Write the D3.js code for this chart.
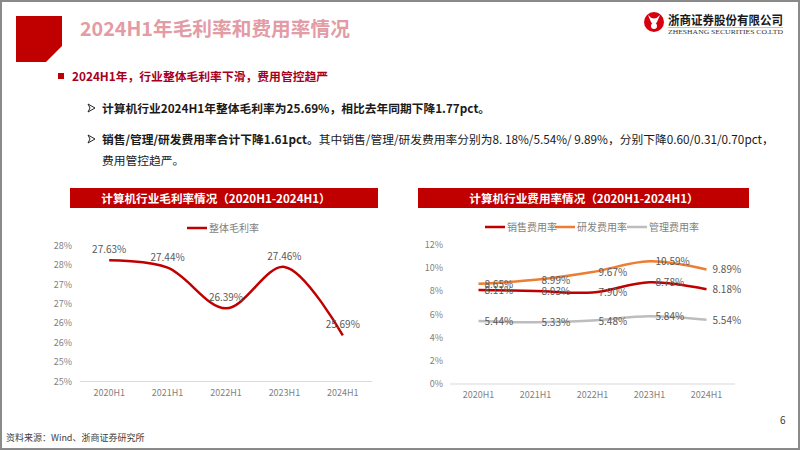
<!DOCTYPE html>
<html><head><meta charset="utf-8">
<script src="https://cdn.jsdelivr.net/npm/d3@7"></script>
<style>
html,body{margin:0;padding:0;background:#fff;}
svg{display:block;font-family:"Noto Sans CJK SC","Noto Sans",sans-serif;}
</style></head>
<body>
<svg id="c" width="802" height="451"></svg>
<script>
// ---- data ----
const periods = ["2020H1","2021H1","2022H1","2023H1","2024H1"];
const grossMargin = [27.63, 27.44, 26.39, 27.46, 25.69];
const grossTickValues = [24.5, 25, 25.5, 26, 26.5, 27, 27.5, 28];
const grossTickLabels = ["25%","25%","26%","26%","27%","27%","28%","28%"];
const salesRate = [8.11, 8.03, 7.90, 8.78, 8.18];
const rdRate = [8.65, 8.99, 9.67, 10.59, 9.89];
const adminRate = [5.44, 5.33, 5.48, 5.84, 5.54];
const expenseNames = ["销售费用率","研发费用率","管理费用率"];
const expenseTickValues = [0, 2, 4, 6, 8, 10, 12];
const expenseTickLabels = ["0%","2%","4%","6%","8%","10%","12%"];

const svg = d3.select("#c");
const RED = "#C00000";

// frame
svg.append("rect").attr("x",1).attr("y",1).attr("width",798).attr("height",448)
  .attr("fill","none").attr("stroke","#8a8a8a").attr("stroke-width",2);

// header block
svg.append("path").attr("d","M16,16 H62 V46 L46,62 H16 Z").attr("fill",RED);
svg.append("text").attr("x",80).attr("y",35.5).attr("font-size",19.7).attr("font-weight","bold")
  .attr("fill","#E39BA4").text("2024H1年毛利率和费用率情况");

// logo
const lg = svg.append("g");
lg.append("circle").attr("cx",654).attr("cy",22).attr("r",10).attr("fill","#D7000F");
lg.append("path").attr("d","M648,15 Q654,22 660,15 L657,22 Q654,27 651,22 Z").attr("fill","#fff");
lg.append("circle").attr("cx",654).attr("cy",26).attr("r",3).attr("fill","#fff");
lg.append("text").attr("x",668).attr("y",25).attr("font-size",12.5).attr("font-weight","bold")
  .attr("fill","#1a1a1a").attr("textLength",115).attr("lengthAdjust","spacingAndGlyphs").text("浙商证券股份有限公司");
lg.append("line").attr("x1",668).attr("x2",783).attr("y1",27.5).attr("y2",27.5).attr("stroke","#888").attr("stroke-width",0.5);
lg.append("text").attr("x",668).attr("y",34).attr("font-size",6.5).attr("font-family","Liberation Serif")
  .attr("fill","#333").attr("textLength",115).attr("lengthAdjust","spacingAndGlyphs").text("ZHESHANG SECURITIES CO.LTD");

// bullet text
svg.append("rect").attr("x",58).attr("y",73).attr("width",6).attr("height",6).attr("fill",RED);
svg.append("text").attr("x",72).attr("y",80.5).attr("font-size",11.8).attr("font-weight","bold")
  .attr("fill","#A8001C").text("2024H1年，行业整体毛利率下滑，费用管控趋严");

function arrow(y){
  svg.append("path").attr("d",`M88,${y-4} L95,${y} L88,${y+4} L90,${y} Z`)
    .attr("fill","none").attr("stroke","#222").attr("stroke-width",1);
}
arrow(108); arrow(139);
svg.append("text").attr("x",102).attr("y",112.5).attr("font-size",11.75).attr("font-weight","bold")
  .attr("fill","#1a1a1a").text("计算机行业2024H1年整体毛利率为25.69%，相比去年同期下降1.77pct。");
const t3 = svg.append("text").attr("x",102).attr("y",143.5).attr("font-size",11.75).attr("fill","#1a1a1a");
t3.append("tspan").attr("font-weight","bold").text("销售/管理/研发费用率合计下降1.61pct。");
t3.append("tspan").text("其中销售/管理/研发费用率分别为8. 18%/5.54%/ 9.89%，分别下降0.60/0.31/0.70pct，");
svg.append("text").attr("x",102).attr("y",165).attr("font-size",11.75).attr("fill","#1a1a1a").text("费用管控趋严。");

// footer
svg.append("text").attr("x",6).attr("y",441).attr("font-size",9).attr("fill","#404040").text("资料来源：Wind、浙商证券研究所");
svg.append("text").attr("x",780).attr("y",424).attr("font-size",10).attr("fill","#404040").text("6");

const AX = "#7F7F7F", LBL = "#595959";

// ---- left chart ----
{
  svg.append("rect").attr("x",70).attr("y",188).attr("width",308).attr("height",20).attr("fill",RED);
  svg.append("text").attr("x",216).attr("y",202.5).attr("text-anchor","middle").attr("font-size",11.6)
    .attr("font-weight","bold").attr("fill","#fff").text("计算机行业毛利率情况（2020H1-2024H1）");
  const x = d3.scaleBand().domain(periods).range([80,372]);
  const y = d3.scaleLinear().domain([24.5,28]).range([381.5,246]);
  const g = svg.append("g");
  g.append("line").attr("x1",80).attr("x2",372).attr("y1",y(24.5)).attr("y2",y(24.5)).attr("stroke","#D9D9D9");
  g.selectAll(".yt").data(grossTickValues).join("text").attr("x",72).attr("y",d=>y(d)+3)
    .attr("text-anchor","end").attr("font-size",9).attr("fill",AX).text((d,i)=>grossTickLabels[i]);
  g.selectAll(".xt").data(periods).join("text").attr("x",d=>x(d)+x.bandwidth()/2).attr("y",396)
    .attr("text-anchor","middle").attr("font-size",9).attr("fill",AX).text(d=>d);
  const line = d3.line().x((d,i)=>x(periods[i])+x.bandwidth()/2).y(d=>y(d)).curve(d3.curveCatmullRom.alpha(0.5));
  g.append("path").attr("d",line(grossMargin)).attr("fill","none").attr("stroke",RED).attr("stroke-width",2.5);
  g.selectAll(".dl").data(grossMargin).join("text").attr("x",(d,i)=>x(periods[i])+x.bandwidth()/2)
    .attr("y",d=>y(d)-7).attr("text-anchor","middle").attr("font-size",10).attr("fill",LBL).text(d=>d.toFixed(2)+"%");
  // legend
  g.append("line").attr("x1",187).attr("x2",207).attr("y1",228).attr("y2",228).attr("stroke",RED).attr("stroke-width",2.5);
  g.append("text").attr("x",209).attr("y",231.5).attr("font-size",10).attr("fill",AX).text("整体毛利率");
}

// ---- right chart ----
{
  svg.append("rect").attr("x",418).attr("y",188).attr("width",331).attr("height",20).attr("fill",RED);
  svg.append("text").attr("x",584).attr("y",202.5).attr("text-anchor","middle").attr("font-size",11.6)
    .attr("font-weight","bold").attr("fill","#fff").text("计算机行业费用率情况（2020H1-2024H1）");
  const x = d3.scaleBand().domain(periods).range([450,735]);
  const y = d3.scaleLinear().domain([0,12]).range([384,245]);
  const g = svg.append("g");
  g.append("line").attr("x1",450).attr("x2",735).attr("y1",y(0)).attr("y2",y(0)).attr("stroke","#D9D9D9");
  g.selectAll(".yt").data(expenseTickValues).join("text").attr("x",443).attr("y",d=>y(d)+3)
    .attr("text-anchor","end").attr("font-size",9).attr("fill",AX).text((d,i)=>expenseTickLabels[i]);
  g.selectAll(".xt").data(periods).join("text").attr("x",d=>x(d)+x.bandwidth()/2).attr("y",398)
    .attr("text-anchor","middle").attr("font-size",9).attr("fill",AX).text(d=>d);
  const series = [
    {name:expenseNames[0], values:salesRate, color:RED},
    {name:expenseNames[1], values:rdRate, color:"#ED7D31"},
    {name:expenseNames[2], values:adminRate, color:"#BDBDBD"}
  ];
  const line = d3.line().x((d,i)=>x(periods[i])+x.bandwidth()/2).y(d=>y(d)).curve(d3.curveCatmullRom.alpha(0.5));
  series.forEach(s=>{
    g.append("path").attr("d",line(s.values)).attr("fill","none").attr("stroke",s.color).attr("stroke-width",2.5);
  });
  series.forEach(s=>{
    g.selectAll(null).data(s.values).join("text").attr("x",(d,i)=>x(periods[i])+x.bandwidth()/2+6)
      .attr("y",d=>y(d)+4).attr("font-size",10).attr("fill",LBL).text(d=>d.toFixed(2)+"%");
  });
  const lx = [485,555,627];
  series.forEach((s,i)=>{
    g.append("line").attr("x1",lx[i]).attr("x2",lx[i]+20).attr("y1",227).attr("y2",227).attr("stroke",s.color).attr("stroke-width",2.5);
    g.append("text").attr("x",lx[i]+22).attr("y",230.5).attr("font-size",10).attr("fill",AX).text(s.name);
  });
}
</script>
</body></html>
